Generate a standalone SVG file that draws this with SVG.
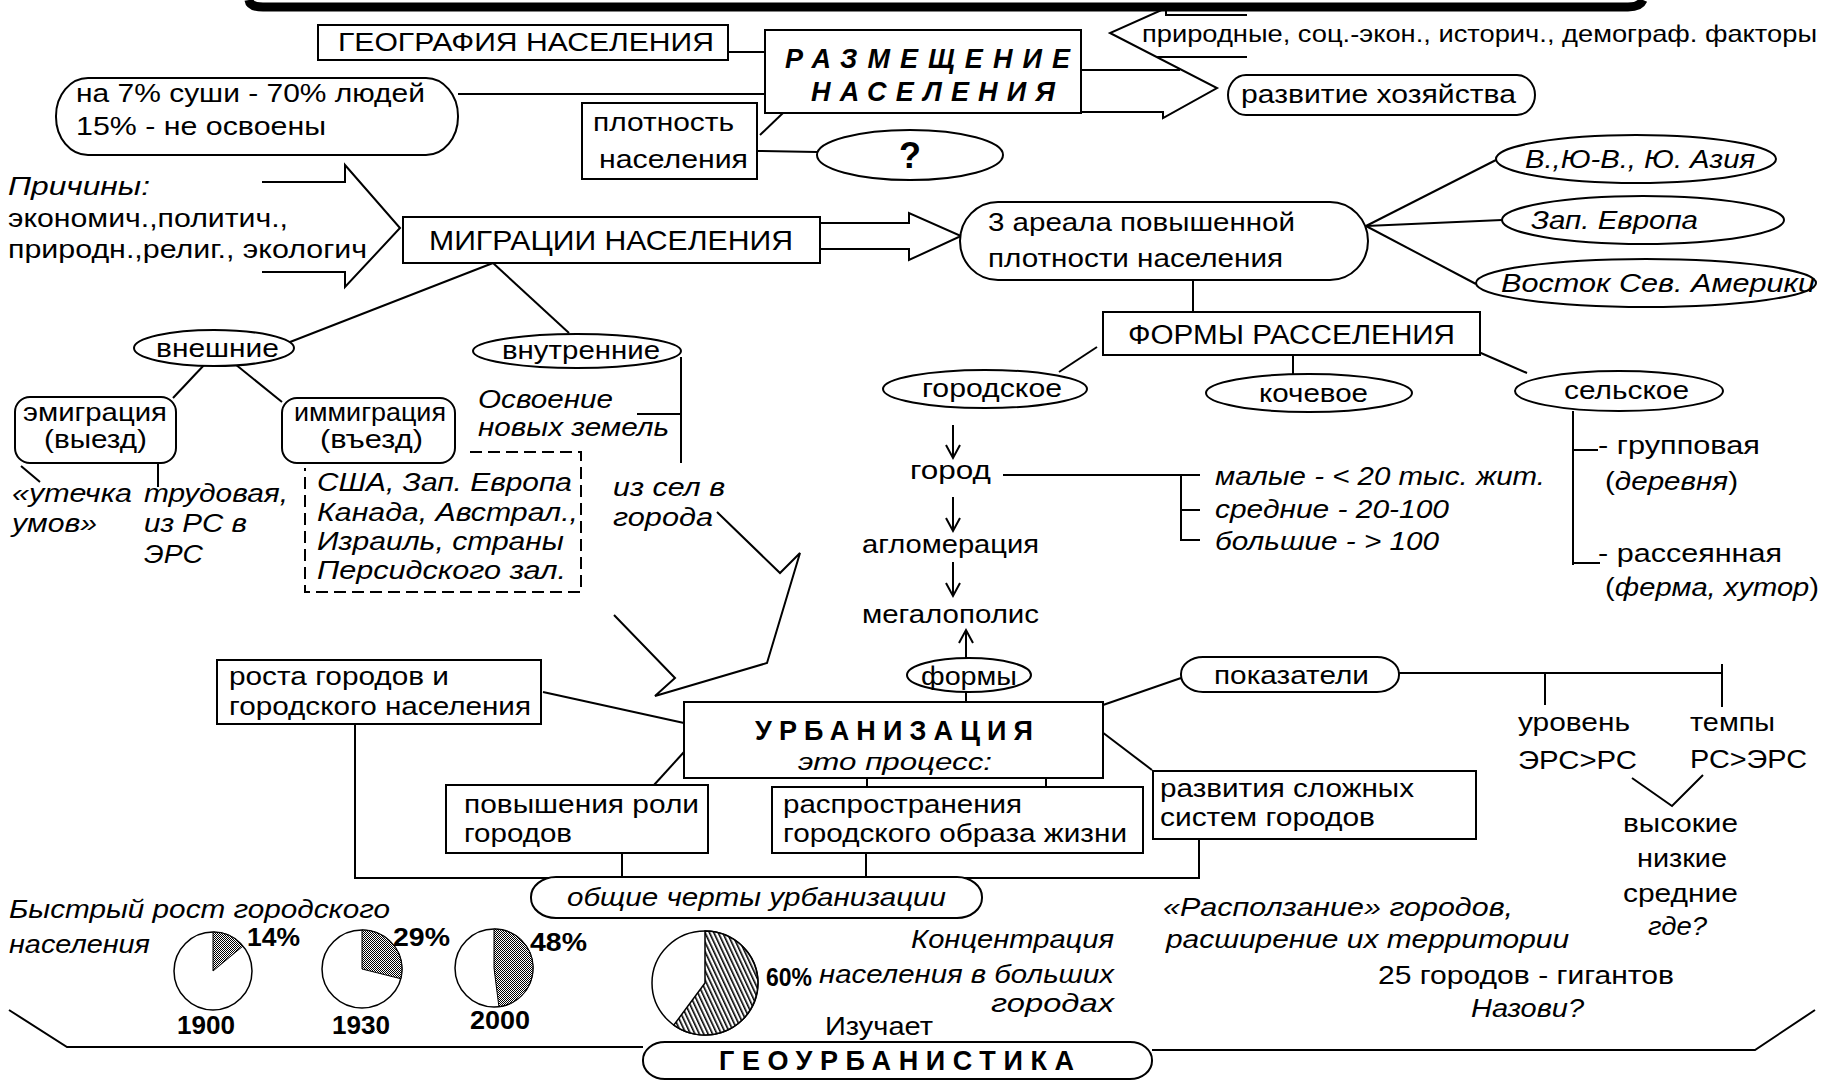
<svg xmlns="http://www.w3.org/2000/svg" width="1837" height="1081" viewBox="0 0 1837 1081">
<style>
text{font-family:"Liberation Sans",Arial,sans-serif;font-size:25px;fill:#000}
.i{font-style:italic}
.b{font-weight:bold}
.c{text-anchor:middle}
.r{text-anchor:end}
.bx{fill:#fff;stroke:#000;stroke-width:2}
.ln{fill:none;stroke:#000;stroke-width:2}
.pie{fill:#fff;stroke:#000;stroke-width:1.5}
</style>
<defs>
<pattern id="pd" width="2" height="2" patternUnits="userSpaceOnUse"><rect width="2" height="2" fill="#fff"/><rect width="1" height="1" fill="#000"/><rect x="1" y="1" width="1" height="1" fill="#000"/></pattern>
<pattern id="pl" width="4" height="4" patternUnits="userSpaceOnUse" patternTransform="rotate(-25)"><rect width="4" height="4" fill="#fff"/><rect width="1.6" height="4" fill="#000"/></pattern>
</defs>
<rect width="1837" height="1081" fill="#fff"/>

<g id="connectors">
<path d="M249,0 Q250,7 263,7 L1628,7 Q1640,7 1643,0" style="fill:none;stroke:#000;stroke-width:9"/>
<line class="ln" x1="728" y1="52" x2="765" y2="52"/>
<line class="ln" x1="458" y1="94" x2="765" y2="94"/>
<line class="ln" x1="760" y1="135" x2="783" y2="113"/>
<line class="ln" x1="757" y1="151" x2="817" y2="152"/>
<polyline class="ln" points="1247,15 1166,15 1166,8 1110,33 1217,88 1163,118 1163,112 1081,112"/>
<line class="ln" x1="1157" y1="57" x2="1247" y2="57"/>
<line class="ln" x1="1081" y1="70" x2="1180" y2="70"/>
<polyline class="ln" points="262,182 345,182 345,165 400,228 345,287 345,272 262,272"/>
<polyline class="ln" points="820,223 909,223 909,213 961,236 909,260 909,249 820,249"/>
<line class="ln" x1="1366" y1="226" x2="1496" y2="160"/>
<line class="ln" x1="1366" y1="226" x2="1502" y2="220"/>
<line class="ln" x1="1366" y1="226" x2="1476" y2="284"/>
<line class="ln" x1="1193" y1="280" x2="1193" y2="312"/>
<line class="ln" x1="1097" y1="347" x2="1059" y2="372"/>
<line class="ln" x1="1293" y1="355" x2="1293" y2="374"/>
<line class="ln" x1="1474" y1="350" x2="1527" y2="373"/>
<line class="ln" x1="953" y1="425" x2="953" y2="457"/><polyline class="ln" points="946,445 953,458 960,445"/>
<line class="ln" x1="953" y1="497" x2="953" y2="530"/><polyline class="ln" points="946,518 953,531 960,518"/>
<line class="ln" x1="953" y1="562" x2="953" y2="595"/><polyline class="ln" points="946,583 953,596 960,583"/>
<line class="ln" x1="966" y1="658" x2="966" y2="631"/><polyline class="ln" points="959,643 966,630 973,643"/>
<line class="ln" x1="966" y1="692" x2="966" y2="703"/>
<line class="ln" x1="1003" y1="475" x2="1200" y2="475"/>
<polyline class="ln" points="1200,510 1181,510 1181,475 1181,540 1200,540"/>
<line class="ln" x1="1573" y1="411" x2="1573" y2="565"/>
<line class="ln" x1="1573" y1="450" x2="1598" y2="450"/>
<line class="ln" x1="1573" y1="563" x2="1600" y2="563"/>
<line class="ln" x1="493" y1="263" x2="290" y2="342"/>
<line class="ln" x1="493" y1="263" x2="569" y2="333"/>
<line class="ln" x1="205" y1="364" x2="173" y2="398"/>
<line class="ln" x1="235" y1="364" x2="282" y2="402"/>
<line class="ln" x1="21" y1="466" x2="40" y2="482"/>
<line class="ln" x1="158" y1="463" x2="158" y2="487"/>
<polyline class="ln" points="681,357 681,463"/>
<line class="ln" x1="637" y1="414" x2="681" y2="414"/>
<polyline class="ln" points="717,512 780,573 800,553 767,663 655,696 675,678 614,615"/>
<line class="ln" x1="543" y1="692" x2="684" y2="723"/>
<line class="ln" x1="654" y1="785" x2="684" y2="752"/>
<line class="ln" x1="867" y1="778" x2="867" y2="787"/>
<line class="ln" x1="1046" y1="778" x2="1046" y2="787"/>
<line class="ln" x1="1102" y1="732" x2="1152" y2="770"/>
<line class="ln" x1="1103" y1="705" x2="1181" y2="678"/>
<polyline class="ln" points="355,724 355,878 1199,878 1199,839"/>
<line class="ln" x1="622" y1="853" x2="622" y2="878"/>
<line class="ln" x1="866" y1="853" x2="866" y2="878"/>
<line class="ln" x1="1399" y1="673" x2="1722" y2="673"/>
<line class="ln" x1="1545" y1="673" x2="1545" y2="705"/>
<line class="ln" x1="1722" y1="664" x2="1722" y2="707"/>
<polyline class="ln" points="1632,778 1672,806 1703,775"/>
<polyline class="ln" points="9,1010 67,1047 643,1047"/>
<polyline class="ln" points="1152,1050 1755,1050 1815,1010"/>
</g>

<g id="geografia"><rect class="bx" x="318" y="25" width="410" height="35"/><text x="338" y="51" style="font-size:26px" textLength="376" lengthAdjust="spacingAndGlyphs">ГЕОГРАФИЯ НАСЕЛЕНИЯ</text></g>
<g id="razmeshenie"><rect class="bx" x="765" y="30" width="316" height="83"/>
<text class="b i" x="785" y="68" style="font-size:27px" textLength="285" lengthAdjust="spacing">РАЗМЕЩЕНИЕ</text>
<text class="b i" x="811" y="101" style="font-size:27px" textLength="244" lengthAdjust="spacing">НАСЕЛЕНИЯ</text></g>
<g id="sushi"><rect class="bx" x="56" y="78" width="402" height="77" rx="32" ry="38"/>
<text x="76" y="102" textLength="349" lengthAdjust="spacingAndGlyphs">на 7% суши - 70% людей</text>
<text x="76" y="135" textLength="250" lengthAdjust="spacingAndGlyphs">15% - не освоены</text></g>
<g id="plotnost"><rect class="bx" x="582" y="103" width="175" height="76"/>
<text x="593" y="131" textLength="141" lengthAdjust="spacingAndGlyphs">плотность</text>
<text x="599" y="168" textLength="149" lengthAdjust="spacingAndGlyphs">населения</text></g>
<g id="vopros"><ellipse class="bx" cx="910" cy="155" rx="93" ry="25"/><text class="b c" x="910" y="168" style="font-size:36px">?</text></g>
<g id="faktory"><text x="1142" y="42" style="font-size:24px" textLength="675" lengthAdjust="spacingAndGlyphs">природные, соц.-экон., историч., демограф. факторы</text></g>
<g id="hozyaistvo"><rect class="bx" x="1228" y="75" width="307" height="40" rx="18" ry="20"/><text x="1241" y="103" textLength="275" lengthAdjust="spacingAndGlyphs">развитие хозяйства</text></g>
<g id="prichiny">
<text class="i" x="8" y="195" textLength="142" lengthAdjust="spacingAndGlyphs">Причины:</text>
<text x="8" y="227" textLength="280" lengthAdjust="spacingAndGlyphs">экономич.,политич.,</text>
<text x="8" y="258" textLength="359" lengthAdjust="spacingAndGlyphs">природн.,религ., экологич</text></g>
<g id="migracii"><rect class="bx" x="403" y="217" width="417" height="46"/><text x="429" y="250" style="font-size:28px" textLength="364" lengthAdjust="spacingAndGlyphs">МИГРАЦИИ НАСЕЛЕНИЯ</text></g>
<g id="arealy"><rect class="bx" x="960" y="202" width="408" height="78" rx="38" ry="39"/>
<text x="988" y="231" textLength="307" lengthAdjust="spacingAndGlyphs">3 ареала повышенной</text>
<text x="988" y="267" textLength="295" lengthAdjust="spacingAndGlyphs">плотности населения</text></g>
<g id="asia"><ellipse class="bx" cx="1636" cy="159" rx="140" ry="24"/><text class="i" x="1525" y="168" textLength="230" lengthAdjust="spacingAndGlyphs">В.,Ю-В., Ю. Азия</text></g>
<g id="europa"><ellipse class="bx" cx="1643" cy="220" rx="141" ry="24"/><text class="i" x="1531" y="229" textLength="167" lengthAdjust="spacingAndGlyphs">Зап. Европа</text></g>
<g id="amerika"><ellipse class="bx" cx="1646" cy="283" rx="170" ry="24"/><text class="i" x="1501" y="292" textLength="314" lengthAdjust="spacingAndGlyphs">Восток Сев. Америки</text></g>
<g id="formy-rasseleniya"><rect class="bx" x="1103" y="312" width="377" height="43"/><text x="1128" y="344" style="font-size:27px" textLength="327" lengthAdjust="spacingAndGlyphs">ФОРМЫ РАССЕЛЕНИЯ</text></g>
<g id="gorodskoe"><ellipse class="bx" cx="985" cy="389" rx="102" ry="19"/><text x="922" y="397" textLength="140" lengthAdjust="spacingAndGlyphs">городское</text></g>
<g id="kochevoe"><ellipse class="bx" cx="1309" cy="393" rx="103" ry="19"/><text x="1259" y="402" textLength="109" lengthAdjust="spacingAndGlyphs">кочевое</text></g>
<g id="selskoe"><ellipse class="bx" cx="1619" cy="391" rx="104" ry="20"/><text x="1564" y="399" textLength="125" lengthAdjust="spacingAndGlyphs">сельское</text></g>
<g id="gorod-chain">
<text x="910" y="479" textLength="81" lengthAdjust="spacingAndGlyphs">город</text>
<text x="862" y="553" textLength="177" lengthAdjust="spacingAndGlyphs">агломерация</text>
<text x="862" y="623" textLength="177" lengthAdjust="spacingAndGlyphs">мегалополис</text></g>
<g id="razmery">
<text class="i" x="1215" y="485" textLength="330" lengthAdjust="spacingAndGlyphs">малые - &lt; 20 тыс. жит.</text>
<text class="i" x="1215" y="518" textLength="234" lengthAdjust="spacingAndGlyphs">средние - 20-100</text>
<text class="i" x="1215" y="550" textLength="224" lengthAdjust="spacingAndGlyphs">большие - &gt; 100</text></g>
<g id="tipy-selskogo">
<text x="1598" y="454" textLength="162" lengthAdjust="spacingAndGlyphs">- групповая</text>
<text x="1605" y="490" textLength="133" lengthAdjust="spacingAndGlyphs">(<tspan class="i">деревня</tspan>)</text>
<text x="1598" y="562" textLength="184" lengthAdjust="spacingAndGlyphs">- рассеянная</text>
<text x="1605" y="596" textLength="214" lengthAdjust="spacingAndGlyphs">(<tspan class="i">ферма, хутор</tspan>)</text></g>
<g id="vneshnie"><ellipse class="bx" cx="214" cy="348" rx="80" ry="18"/><text x="156" y="357" textLength="123" lengthAdjust="spacingAndGlyphs">внешние</text></g>
<g id="vnutrennie"><ellipse class="bx" cx="577" cy="351" rx="104" ry="17"/><text x="502" y="359" textLength="158" lengthAdjust="spacingAndGlyphs">внутренние</text></g>
<g id="emigraciya"><rect class="bx" x="15" y="397" width="161" height="66" rx="15"/>
<text x="23" y="421" textLength="144" lengthAdjust="spacingAndGlyphs">эмиграция</text>
<text x="44" y="448" textLength="103" lengthAdjust="spacingAndGlyphs">(выезд)</text></g>
<g id="immigraciya"><rect class="bx" x="282" y="398" width="173" height="65" rx="15"/>
<text x="294" y="421" textLength="152" lengthAdjust="spacingAndGlyphs">иммиграция</text>
<text x="320" y="448" textLength="103" lengthAdjust="spacingAndGlyphs">(въезд)</text></g>
<g id="utechka"><text class="i" x="12" y="502" textLength="120" lengthAdjust="spacingAndGlyphs">«утечка</text><text class="i" x="12" y="532" textLength="85" lengthAdjust="spacingAndGlyphs">умов»</text></g>
<g id="trudovaya"><text class="i" x="144" y="502" textLength="144" lengthAdjust="spacingAndGlyphs">трудовая,</text><text class="i" x="144" y="532" textLength="103" lengthAdjust="spacingAndGlyphs">из РС в</text><text class="i" x="144" y="563" textLength="59" lengthAdjust="spacingAndGlyphs">ЭРС</text></g>
<g id="strany"><path class="ln" d="M470,452 L581,452 L581,592 L305,592 L305,468" stroke-dasharray="12,6"/>
<text class="i" x="317" y="491" textLength="255" lengthAdjust="spacingAndGlyphs">США, Зап. Европа</text>
<text class="i" x="317" y="521" textLength="261" lengthAdjust="spacingAndGlyphs">Канада, Австрал.,</text>
<text class="i" x="317" y="550" textLength="247" lengthAdjust="spacingAndGlyphs">Израиль, страны</text>
<text class="i" x="317" y="579" textLength="249" lengthAdjust="spacingAndGlyphs">Персидского зал.</text></g>
<g id="osvoenie"><text class="i" x="478" y="408" textLength="135" lengthAdjust="spacingAndGlyphs">Освоение</text><text class="i" x="478" y="436" textLength="191" lengthAdjust="spacingAndGlyphs">новых земель</text></g>
<g id="iz-sel"><text class="i" x="613" y="496" textLength="112" lengthAdjust="spacingAndGlyphs">из сел в</text><text class="i" x="613" y="526" textLength="100" lengthAdjust="spacingAndGlyphs">города</text></g>
<g id="formy"><ellipse class="bx" cx="969" cy="675" rx="62" ry="17"/><text x="921" y="685" textLength="96" lengthAdjust="spacingAndGlyphs">формы</text></g>
<g id="urbanizaciya"><rect class="bx" x="684" y="702" width="419" height="76"/>
<text class="b" x="755" y="740" style="font-size:27px" textLength="278" lengthAdjust="spacing">УРБАНИЗАЦИЯ</text>
<text class="i" x="798" y="770" style="font-size:23px" textLength="194" lengthAdjust="spacingAndGlyphs">это процесс:</text></g>
<g id="rosta"><rect class="bx" x="217" y="660" width="324" height="64"/>
<text x="229" y="685" textLength="220" lengthAdjust="spacingAndGlyphs">роста городов и</text>
<text x="229" y="715" textLength="302" lengthAdjust="spacingAndGlyphs">городского населения</text></g>
<g id="povysheniya"><rect class="bx" x="446" y="785" width="262" height="68"/>
<text x="464" y="813" textLength="235" lengthAdjust="spacingAndGlyphs">повышения роли</text>
<text x="464" y="842" textLength="108" lengthAdjust="spacingAndGlyphs">городов</text></g>
<g id="rasprostraneniya"><rect class="bx" x="772" y="787" width="371" height="66"/>
<text x="783" y="813" textLength="239" lengthAdjust="spacingAndGlyphs">распространения</text>
<text x="783" y="842" textLength="344" lengthAdjust="spacingAndGlyphs">городского образа жизни</text></g>
<g id="razvitiya"><rect class="bx" x="1153" y="771" width="323" height="68"/>
<text x="1160" y="797" textLength="254" lengthAdjust="spacingAndGlyphs">развития сложных</text>
<text x="1160" y="826" textLength="215" lengthAdjust="spacingAndGlyphs">систем городов</text></g>
<g id="obshchie"><rect class="bx" x="531" y="877" width="451" height="41" rx="25" ry="20"/><text class="i" x="567" y="906" textLength="379" lengthAdjust="spacingAndGlyphs">общие черты урбанизации</text></g>
<g id="pokazateli"><rect class="bx" x="1181" y="657" width="218" height="35" rx="22" ry="17"/><text x="1214" y="684" textLength="155" lengthAdjust="spacingAndGlyphs">показатели</text></g>
<g id="uroven"><text x="1518" y="731" textLength="112" lengthAdjust="spacingAndGlyphs">уровень</text><text x="1518" y="769" textLength="119" lengthAdjust="spacingAndGlyphs">ЭРС&gt;РС</text></g>
<g id="tempy"><text x="1690" y="731" textLength="85" lengthAdjust="spacingAndGlyphs">темпы</text><text x="1690" y="768" textLength="117" lengthAdjust="spacingAndGlyphs">РС&gt;ЭРС</text></g>
<g id="urovni">
<text x="1623" y="832" textLength="115" lengthAdjust="spacingAndGlyphs">высокие</text>
<text x="1637" y="867" textLength="90" lengthAdjust="spacingAndGlyphs">низкие</text>
<text x="1623" y="902" textLength="115" lengthAdjust="spacingAndGlyphs">средние</text>
<text class="i" x="1648" y="935" textLength="59" lengthAdjust="spacingAndGlyphs">где?</text></g>
<g id="bystryi-rost">
<text class="i" x="9" y="918" textLength="381" lengthAdjust="spacingAndGlyphs">Быстрый рост городского</text>
<text class="i" x="9" y="953" textLength="141" lengthAdjust="spacingAndGlyphs">населения</text></g>
<g id="pie-1900"><ellipse class="pie" cx="213" cy="971" rx="39" ry="39"/><path d="M213,971 L213,932 A39,39 0 0 1 243,946 Z" fill="url(#pd)" stroke="#000" stroke-width="1"/>
<text class="b" x="247" y="946" style="font-size:26px" textLength="53" lengthAdjust="spacingAndGlyphs">14%</text>
<text class="b" x="177" y="1034" style="font-size:26px" textLength="58" lengthAdjust="spacingAndGlyphs">1900</text></g>
<g id="pie-1930"><ellipse class="pie" cx="362" cy="969" rx="40" ry="39"/><path d="M362,969 L362,930 A40,39 0 0 1 400.7,978.7 Z" fill="url(#pd)" stroke="#000" stroke-width="1"/>
<text class="b" x="393" y="946" style="font-size:26px" textLength="57" lengthAdjust="spacingAndGlyphs">29%</text>
<text class="b" x="332" y="1034" style="font-size:26px" textLength="58" lengthAdjust="spacingAndGlyphs">1930</text></g>
<g id="pie-2000"><ellipse class="pie" cx="494" cy="968" rx="39" ry="39"/><path d="M494,968 L494,929 A39,39 0 0 1 498.9,1006.7 Z" fill="url(#pd)" stroke="#000" stroke-width="1"/>
<text class="b" x="530" y="951" style="font-size:26px" textLength="57" lengthAdjust="spacingAndGlyphs">48%</text>
<text class="b" x="470" y="1029" style="font-size:26px" textLength="60" lengthAdjust="spacingAndGlyphs">2000</text></g>
<g id="pie-60"><ellipse class="pie" cx="705" cy="983" rx="53" ry="52"/><path d="M705,983 L705,931 A53,52 0 1 1 673.8,1025.1 Z" fill="url(#pl)" stroke="#000" stroke-width="1.5"/>
<text class="b" x="766" y="986" style="font-size:26px" textLength="46" lengthAdjust="spacingAndGlyphs">60%</text></g>
<g id="koncentraciya">
<text class="i r" x="1114" y="948" textLength="203" lengthAdjust="spacingAndGlyphs">Концентрация</text>
<text class="i r" x="1114" y="983" textLength="295" lengthAdjust="spacingAndGlyphs">населения в больших</text>
<text class="i r" x="1114" y="1012" textLength="123" lengthAdjust="spacingAndGlyphs">городах</text></g>
<g id="izuchaet"><text x="825" y="1035" textLength="108" lengthAdjust="spacingAndGlyphs">Изучает</text></g>
<g id="geourbanistika"><rect class="bx" x="643" y="1042" width="509" height="37" rx="22" ry="18"/>
<text class="b" x="719" y="1070" style="font-size:27px" textLength="355" lengthAdjust="spacing">ГЕОУРБАНИСТИКА</text></g>
<g id="raspolzanie">
<text class="i" x="1163" y="916" textLength="350" lengthAdjust="spacingAndGlyphs">«Расползание» городов,</text>
<text class="i" x="1166" y="948" textLength="403" lengthAdjust="spacingAndGlyphs">расширение их территории</text></g>
<g id="giganty">
<text x="1378" y="984" textLength="296" lengthAdjust="spacingAndGlyphs">25 городов - гигантов</text>
<text class="i" x="1471" y="1017" textLength="113" lengthAdjust="spacingAndGlyphs">Назови?</text></g>
</svg>
